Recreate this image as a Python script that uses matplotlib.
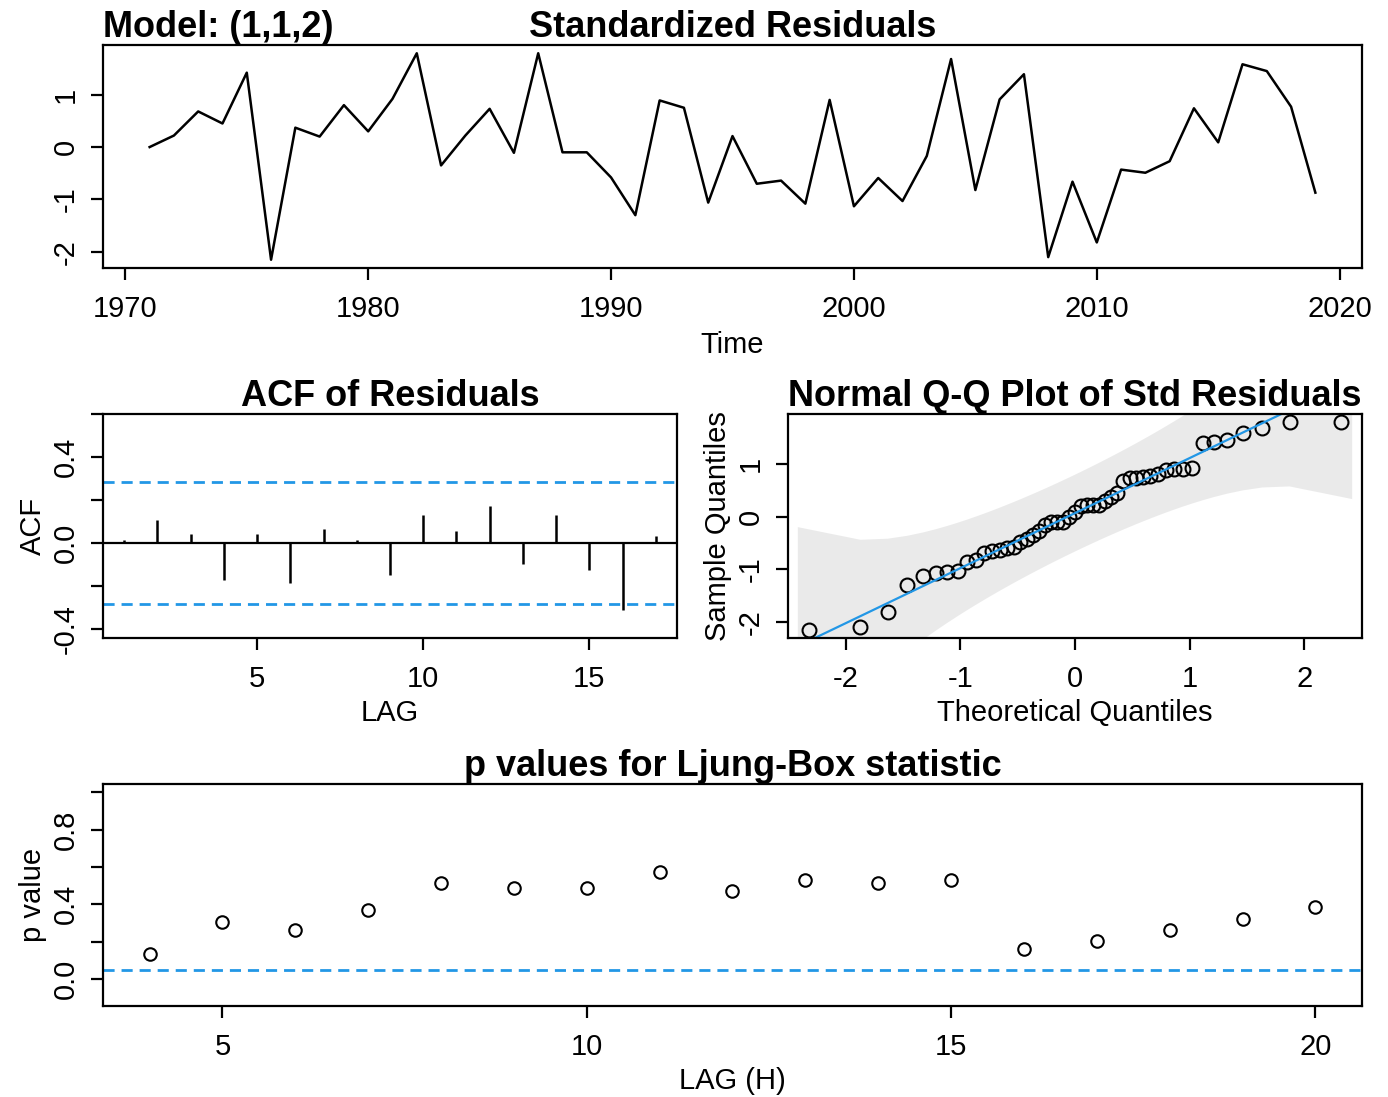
import numpy as np
import matplotlib
matplotlib.use("Agg")
import matplotlib.pyplot as plt
from statistics import NormalDist

# ---------------- data ----------------
years = list(range(1971, 2020))
std_resid = [0.00, 0.22, 0.68, 0.45, 1.42, -2.15, 0.37, 0.20, 0.80, 0.30,
             0.92, 1.79, -0.35, 0.22, 0.73, -0.11, 1.79, -0.10, -0.10, -0.58,
             -1.30, 0.89, 0.75, -1.06, 0.21, -0.70, -0.64, -1.08, 0.90, -1.13,
             -0.59, -1.03, -0.17, 1.68, -0.82, 0.91, 1.39, -2.10, -0.66, -1.82,
             -0.43, -0.49, -0.27, 0.74, 0.09, 1.58, 1.45, 0.77, -0.87]

acf_lags = list(range(1, 18))
acf_vals = [0.015, 0.105, 0.043, -0.173, 0.043, -0.186, 0.067, 0.015, -0.149,
            0.130, 0.054, 0.170, -0.096, 0.130, -0.124, -0.313, 0.031]

lb_lags = list(range(4, 21))
lb_pvals = [0.132, 0.308, 0.263, 0.368, 0.515, 0.485, 0.485, 0.575, 0.474,
            0.530, 0.515, 0.530, 0.160, 0.205, 0.263, 0.323, 0.384]

model_label = "Model: (1,1,2)"
# --------------------------------------

BLUE = "#2297E6"
FS = 21
TFS = 26
plt.rcParams['font.family'] = ['Liberation Sans', 'DejaVu Sans']
plt.rcParams['axes.unicode_minus'] = False
plt.rcParams['axes.linewidth'] = 1.6
plt.rcParams['xtick.major.width'] = 1.6
plt.rcParams['ytick.major.width'] = 1.6
plt.rcParams['xtick.major.size'] = 8.5
plt.rcParams['ytick.major.size'] = 8.5
plt.rcParams['xtick.labelsize'] = FS
plt.rcParams['ytick.labelsize'] = FS

W, H = 1388, 1097
fig = plt.figure(figsize=(W / 100, H / 100), dpi=100)
fig.patch.set_facecolor('white')


def box(l, t, r, b):
    return [l / W, (H - b) / H, (r - l) / W, (b - t) / H]


def pad_lim(vals, f=0.04):
    lo, hi = min(vals), max(vals)
    d = (hi - lo) * f
    return lo - d, hi + d


def style(ax):
    ax.tick_params(axis='x', pad=11)
    ax.tick_params(axis='y', pad=8, labelrotation=90)
    for lab in ax.get_yticklabels():
        lab.set_va('center')
    for s in ax.spines.values():
        s.set_color('black')


def title(ax, txt):
    ax.set_title(txt, fontsize=TFS, fontweight='bold', pad=6)


# ---- Standardized residuals ----
ax1 = fig.add_axes(box(103, 45, 1362, 268))
ax1.plot(years, std_resid, color='black', lw=1.8)
ax1.set_xlim(*pad_lim(years))
ax1.set_ylim(*pad_lim(std_resid))
ax1.set_xticks([1970, 1980, 1990, 2000, 2010, 2020])
ax1.set_yticks([-2, -1, 0, 1])
ax1.set_xlabel("Time", fontsize=FS, labelpad=6)
title(ax1, "Standardized Residuals")
ax1.set_title(model_label, loc='left', fontsize=TFS, fontweight='bold', pad=6)
style(ax1)

# ---- ACF ----
n = len(std_resid)
ax2 = fig.add_axes(box(103, 414, 677, 638))
ax2.vlines(acf_lags, 0, acf_vals, color='black', lw=1.8)
ax2.axhline(0, color='black', lw=1.6)
U = 2 / np.sqrt(n)
ax2.axhline(U, color=BLUE, lw=2.0, ls=(0, (4, 2.5)))
ax2.axhline(-U, color=BLUE, lw=2.0, ls=(0, (4, 2.5)))
ax2.set_xlim(*pad_lim(acf_lags))
ax2.set_ylim(-0.442, 0.6)
ax2.set_xticks([5, 10, 15])
ax2.set_yticks([-0.4, -0.2, 0.0, 0.2, 0.4, 0.6])
ax2.set_yticklabels(["-0.4", "", "0.0", "", "0.4", ""])
ax2.set_xlabel("LAG", fontsize=FS, labelpad=4)
ax2.set_ylabel("ACF", fontsize=FS, labelpad=4)
title(ax2, "ACF of Residuals")
style(ax2)

# ---- Normal Q-Q ----
ax3 = fig.add_axes(box(788, 414, 1362, 638))
nd = NormalDist()
srt = np.sort(np.array(std_resid))
PP = (np.arange(1, n + 1) - 0.5) / n
z = np.array([nd.inv_cdf(p) for p in PP])
q = np.quantile(srt, [0.25, 0.75])
xq = np.array([nd.inv_cdf(0.25), nd.inv_cdf(0.75)])
b = (q[1] - q[0]) / (xq[1] - xq[0])
a = q[0] - b * xq[0]
dens = np.array([nd.pdf(v) for v in z])
SE = (b / dens) * np.sqrt(PP * (1 - PP) / n)
fit = a + b * z
Up = fit + 3.9 * SE
Lo = fit - 3.9 * SE
zz = z.copy()
zz[0] -= 0.1
zz[-1] += 0.1
ax3.plot(z, srt, 'o', mfc='none', mec='black', ms=10, mew=1.5)
xl = pad_lim(z)
yl = pad_lim(srt)
xs = np.array(xl)
ax3.plot(xs, a + b * xs, color=BLUE, lw=1.6)
ax3.fill(np.concatenate([zz, zz[::-1]]), np.concatenate([Lo, Up[::-1]]),
         color=(0.6, 0.6, 0.6), alpha=0.2, lw=0)
ax3.set_xlim(*xl)
ax3.set_ylim(*yl)
ax3.set_xticks([-2, -1, 0, 1, 2])
ax3.set_yticks([-2, -1, 0, 1])
ax3.set_xlabel("Theoretical Quantiles", fontsize=FS, labelpad=4)
ax3.set_ylabel("Sample Quantiles", fontsize=FS, labelpad=4)
title(ax3, "Normal Q-Q Plot of Std Residuals")
style(ax3)

# ---- Ljung-Box ----
ax4 = fig.add_axes(box(103, 784, 1362, 1006))
ax4.plot(lb_lags, lb_pvals, 'o', mfc='none', mec='black', ms=9, mew=1.5)
ax4.axhline(0.05, color=BLUE, lw=2.0, ls=(0, (4, 2.5)))
ax4.set_xlim(*pad_lim(lb_lags))
ax4.set_ylim(*pad_lim([-0.1, 1.0]))
ax4.set_xticks([5, 10, 15, 20])
ax4.set_yticks([0, 0.2, 0.4, 0.6, 0.8, 1.0])
ax4.set_yticklabels(["0.0", "", "0.4", "", "0.8", ""])
ax4.set_xlabel("LAG (H)", fontsize=FS, labelpad=4)
ax4.set_ylabel("p value", fontsize=FS, labelpad=4)
title(ax4, "p values for Ljung-Box statistic")
style(ax4)

fig.savefig("out.png", dpi=100, facecolor='white')
